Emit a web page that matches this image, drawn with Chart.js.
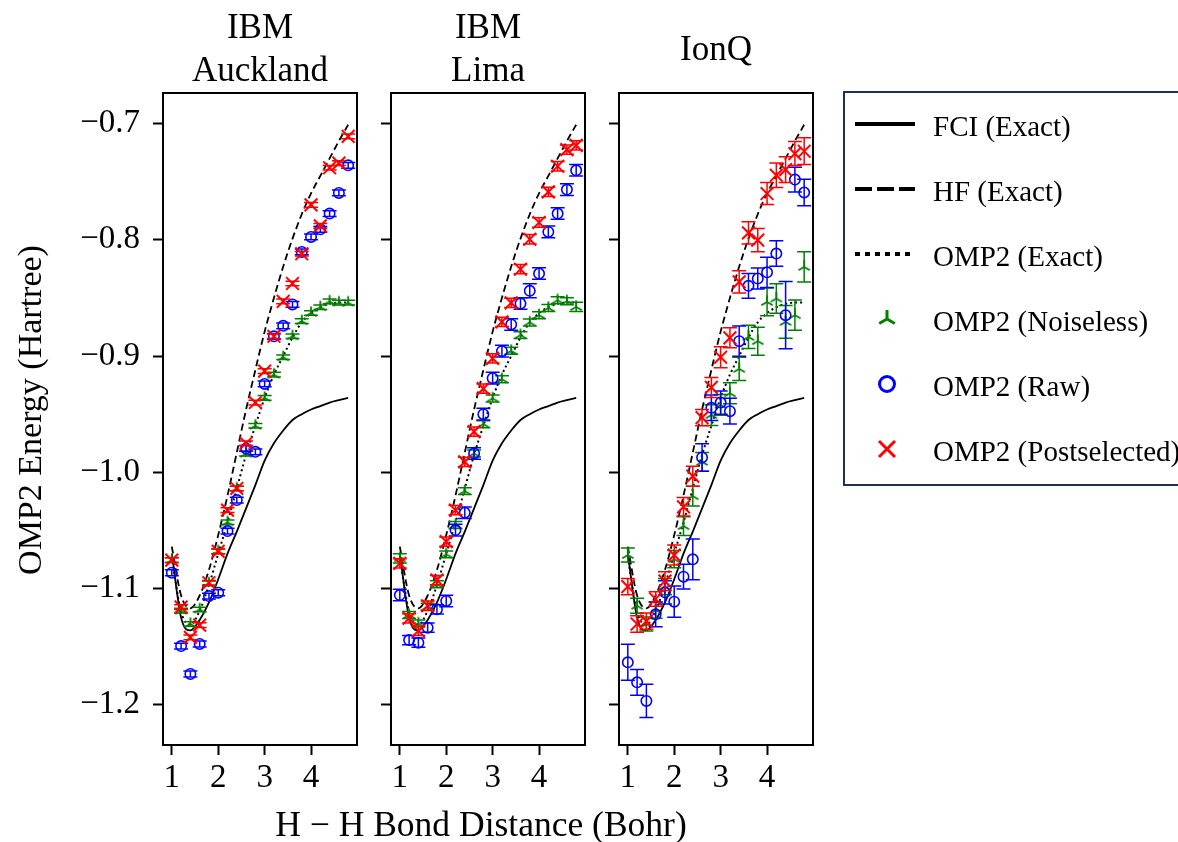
<!DOCTYPE html>
<html>
<head>
<meta charset="utf-8">
<script src="https://cdn.jsdelivr.net/npm/chart.js@4.4.1/dist/chart.umd.min.js"></script>
<style>
  body { margin: 0; width: 1178px; height: 842px; overflow: hidden; position: relative; background: #fff; font-family: "Liberation Serif", "Times New Roman", serif; color: #000; }
  canvas.panel { position: absolute; left: 0; top: 0; }
  .title { position: absolute; width: 300px; text-align: center; font-size: 35px; line-height: 43px; }
  .xlabel { position: absolute; left: 181px; top: 807px; width: 600px; text-align: center; font-size: 35.5px; line-height: 34px; white-space: nowrap; }
  .ylabel { position: absolute; left: -170px; top: 390px; width: 400px; height: 40px; text-align: center; font-size: 34px; line-height: 40px; transform: rotate(-90deg); white-space: nowrap; }
  #legend { position: absolute; left: 843px; top: 91px; width: 360px; height: 391px; border: 2px solid #1f3050; }
  .lg-text { position: absolute; left: 933px; font-size: 29px; line-height: 34px; white-space: nowrap; }
  .lg-icon { position: absolute; left: 852px; }
</style>
</head>
<body>
<canvas class="panel" id="p1" width="1178" height="842"></canvas>
<canvas class="panel" id="p2" width="1178" height="842"></canvas>
<canvas class="panel" id="p3" width="1178" height="842"></canvas>

<div class="title" style="left:110px; top:5px;">IBM<br>Auckland</div>
<div class="title" style="left:338px; top:5px;">IBM<br>Lima</div>
<div class="title" style="left:566px; top:27px;">IonQ</div>
<div class="xlabel">H &minus; H Bond Distance (Bohr)</div>
<div class="ylabel">OMP2 Energy (Hartree)</div>
<div id="legend"></div>

<script>
const bondDist = [1.0, 1.2, 1.4, 1.6, 1.8, 2.0, 2.2, 2.4, 2.6, 2.8, 3.0, 3.2, 3.4, 3.6, 3.8, 4.0, 4.2, 4.4, 4.6, 4.8];
const xTicks = [1, 2, 3, 4];
const yTicks = [-1.2, -1.1, -1.0, -0.9, -0.8, -0.7];
const yTickLabels = ['\u22121.2', '\u22121.1', '\u22121.0', '\u22120.9', '\u22120.8', '\u22120.7'];

// exact curves
const fciExact = [-1.070, -1.125, -1.136, -1.127, -1.112, -1.092, -1.070, -1.051, -1.031, -1.011, -0.990, -0.975, -0.964, -0.955, -0.950, -0.946, -0.943, -0.940, -0.938, -0.936];
const hfExact = [-1.064, -1.106, -1.117, -1.106, -1.084, -1.054, -1.020, -0.983, -0.946, -0.912, -0.879, -0.850, -0.823, -0.799, -0.778, -0.760, -0.745, -0.730, -0.715, -0.701];
const omp2Exact = [-1.073, -1.120, -1.131, -1.119, -1.097, -1.070, -1.043, -1.014, -0.985, -0.960, -0.936, -0.916, -0.900, -0.884, -0.871, -0.863, -0.858, -0.855, -0.854, -0.854];

// IBM Auckland
const aucklandNoiseless = [-1.0755, -1.119, -1.1305, -1.118, -1.0956, -1.068, -1.043, -1.0139, -0.984, -0.960, -0.936, -0.916, -0.901, -0.883, -0.870, -0.863, -0.858, -0.853, -0.854, -0.854];
const aucklandNoiselessErr = [0.002, 0.002, 0.002, 0.002, 0.002, 0.002, 0.002, 0.002, 0.002, 0.002, 0.002, 0.002, 0.002, 0.002, 0.002, 0.002, 0.002, 0.002, 0.002, 0.002];
const aucklandRaw = [-1.0864, -1.1495, -1.1735, -1.1477, -1.1065, -1.1036, -1.0506, -1.0239, -0.9795, -0.9824, -0.924, -0.883, -0.874, -0.8556, -0.8104, -0.7975, -0.791, -0.7774, -0.7597, -0.7359];
const aucklandRawErr = [0.0025, 0.0025, 0.0025, 0.0025, 0.0025, 0.0025, 0.0025, 0.0025, 0.0025, 0.0025, 0.0025, 0.0025, 0.0025, 0.0025, 0.0025, 0.0025, 0.0025, 0.0025, 0.0025, 0.0025];
const aucklandPost = [-1.0755, -1.116, -1.142, -1.1315, -1.095, -1.068, -1.0325, -1.0139, -0.975, -0.940, -0.913, -0.883, -0.853, -0.8376, -0.812, -0.770, -0.788, -0.738, -0.734, -0.711];
const aucklandPostErr = [0.002, 0.002, 0.002, 0.002, 0.002, 0.002, 0.002, 0.002, 0.002, 0.002, 0.002, 0.002, 0.002, 0.002, 0.002, 0.002, 0.002, 0.002, 0.002, 0.002];

// IBM Lima
const limaNoiseless = [-1.074, -1.1228, -1.130, -1.1156, -1.0964, -1.0706, -1.0454, -1.0162, -0.9838, -0.9586, -0.9365, -0.920, -0.8955, -0.882, -0.8711, -0.8648, -0.8586, -0.852, -0.8528, -0.8577];
const limaNoiselessErr = [0.004, 0.003, 0.003, 0.003, 0.003, 0.003, 0.003, 0.003, 0.003, 0.003, 0.003, 0.003, 0.003, 0.003, 0.003, 0.003, 0.003, 0.003, 0.003, 0.004];
const limaRaw = [-1.1056, -1.1443, -1.1466, -1.1337, -1.1179, -1.1107, -1.0497, -1.0348, -0.9838, -0.950, -0.919, -0.8958, -0.8728, -0.8548, -0.8439, -0.829, -0.7932, -0.7774, -0.7568, -0.7402];
const limaRawErr = [0.005, 0.004, 0.004, 0.004, 0.004, 0.005, 0.005, 0.005, 0.005, 0.005, 0.005, 0.005, 0.005, 0.005, 0.006, 0.005, 0.005, 0.005, 0.005, 0.005];
const limaPost = [-1.0783, -1.1256, -1.1363, -1.1148, -1.0927, -1.0597, -1.0325, -0.991, -0.965, -0.928, -0.902, -0.8706, -0.8543, -0.8253, -0.7995, -0.7851, -0.7588, -0.7367, -0.7224, -0.7187];
const limaPostErr = [0.004, 0.004, 0.004, 0.004, 0.004, 0.004, 0.004, 0.004, 0.004, 0.004, 0.004, 0.004, 0.004, 0.004, 0.004, 0.004, 0.004, 0.004, 0.004, 0.004];

// IonQ
const ionqNoiseless = [-1.0712, -1.1148, -1.1305, -1.1185, -1.0984, -1.0747, -1.0463, -1.0205, -0.991, -0.9508, -0.942, -0.932, -0.911, -0.8835, -0.8872, -0.8534, -0.8505, -0.8706, -0.8648, -0.8233];
const ionqNoiselessErr = [0.006, 0.0065, 0.006, 0.007, 0.007, 0.0075, 0.008, 0.0086, 0.008, 0.009, 0.009, 0.009, 0.010, 0.010, 0.012, 0.012, 0.0126, 0.014, 0.013, 0.013];
const ionqRaw = [-1.1635, -1.1807, -1.1967, -1.1222, -1.1033, -1.1113, -1.0898, -1.0749, -0.9872, -0.9445, -0.940, -0.9474, -0.8872, -0.8396, -0.8333, -0.828, -0.8118, -0.8648, -0.7482, -0.7593];
const ionqRawErr = [0.0155, 0.011, 0.0143, 0.0106, 0.010, 0.0135, 0.0106, 0.0175, 0.0118, 0.011, 0.010, 0.011, 0.013, 0.0106, 0.009, 0.013, 0.011, 0.029, 0.0106, 0.0115];
const ionqPost = [-1.0984, -1.1305, -1.128, -1.109, -1.0936, -1.0712, -1.0297, -1.0033, -0.953, -0.927, -0.901, -0.8843, -0.8362, -0.794, -0.8003, -0.7602, -0.7445, -0.7396, -0.7258, -0.7238];
const ionqPostErr = [0.007, 0.007, 0.007, 0.0063, 0.008, 0.0086, 0.008, 0.0086, 0.007, 0.0086, 0.009, 0.0086, 0.0095, 0.0095, 0.010, 0.0095, 0.0106, 0.011, 0.0103, 0.0115];

const GREEN = '#008000', BLUE = '#0000ff', RED = '#ff0000';
const FONT = '"Liberation Serif", "Times New Roman", serif';

function makeTriUp(size, r, color, lw) {
    const c = document.createElement('canvas');
    c.width = size;
    c.height = size;
    const g = c.getContext('2d');
    const m = size / 2;
    g.strokeStyle = color;
    g.lineWidth = lw;
    g.beginPath();
    g.moveTo(m, m); g.lineTo(m, m - r);
    g.moveTo(m, m); g.lineTo(m - r * 0.866, m + r * 0.5);
    g.moveTo(m, m); g.lineTo(m + r * 0.866, m + r * 0.5);
    g.stroke();
    return c;
}

const triMarker = makeTriUp(18, 6.5, GREEN, 1.8);

function points(ys) {
    return bondDist.map((x, i) => ({ x: x, y: ys[i] }));
}

// draws error bars under each dataset's own markers
const errorBars = {
    id: 'errorBars',
    beforeDatasetDraw(chart, args) {
        const ds = chart.data.datasets[args.index];
        if (!ds.errors) return;
        const xs = chart.scales.x, ys = chart.scales.y, ctx = chart.ctx;
        const cap = 7;
        ctx.save();
        ctx.strokeStyle = ds.borderColor;
        ctx.lineWidth = 1.5;
        ds.data.forEach((p, i) => {
            const e = ds.errors[i];
            const px = xs.getPixelForValue(p.x);
            const top = ys.getPixelForValue(p.y + e);
            const bot = ys.getPixelForValue(p.y - e);
            ctx.beginPath();
            ctx.moveTo(px, top); ctx.lineTo(px, bot);
            ctx.moveTo(px - cap, top); ctx.lineTo(px + cap, top);
            ctx.moveTo(px - cap, bot); ctx.lineTo(px + cap, bot);
            ctx.stroke();
        });
        ctx.restore();
    }
};

const frame = {
    id: 'frame',
    afterDraw(chart) {
        const a = chart.chartArea, ctx = chart.ctx;
        ctx.save();
        ctx.strokeStyle = '#000';
        ctx.lineWidth = 2;
        ctx.strokeRect(a.left, a.top, a.right - a.left, a.bottom - a.top);
        ctx.restore();
    }
};

function curve(ys, dash) {
    return {
        data: points(ys),
        showLine: true,
        borderColor: '#000',
        borderWidth: dash && dash[0] === 2 ? 2 : 1.8,
        borderDash: dash || [],
        cubicInterpolationMode: 'monotone',
        pointRadius: 0
    };
}

function makePanel(id, left, right, showLabels, noiseless, noiselessErr, raw, rawErr, post, postErr) {
    const yWidth = 150, xHeight = 60;
    new Chart(document.getElementById(id), {
        type: 'scatter',
        data: {
            datasets: [
                { data: points(post), errors: postErr, borderColor: RED, backgroundColor: RED, pointStyle: 'crossRot', pointRadius: 9, pointBorderWidth: 2 },
                { data: points(raw), errors: rawErr, borderColor: BLUE, backgroundColor: 'rgba(0,0,0,0)', pointStyle: 'circle', pointRadius: 5.2, pointBorderWidth: 1.6 },
                { data: points(noiseless), errors: noiselessErr, borderColor: GREEN, backgroundColor: GREEN, pointStyle: triMarker },
                curve(omp2Exact, [2, 3]),
                curve(hfExact, [7, 4]),
                curve(fciExact, null)
            ]
        },
        options: {
            responsive: false,
            animation: false,
            devicePixelRatio: 1,
            layout: { padding: { left: left - yWidth, right: 1178 - right, top: 93, bottom: 842 - 745 - xHeight } },
            plugins: { legend: { display: false }, tooltip: { enabled: false } },
            scales: {
                x: {
                    type: 'linear',
                    min: 0.81,
                    max: 4.99,
                    afterBuildTicks: axis => { axis.ticks = xTicks.map(v => ({ value: v })); },
                    afterFit: axis => { axis.height = xHeight; },
                    border: { display: false },
                    grid: { drawOnChartArea: false, drawTicks: true, tickLength: 10, tickWidth: 2, tickColor: '#000', color: '#000' },
                    ticks: { color: '#000', padding: 4, maxRotation: 0, font: { family: FONT, size: 33 } }
                },
                y: {
                    type: 'linear',
                    min: -1.2346,
                    max: -0.6737,
                    afterBuildTicks: axis => { axis.ticks = yTicks.map(v => ({ value: v })); },
                    afterFit: axis => { axis.width = yWidth; },
                    border: { display: false },
                    grid: { drawOnChartArea: false, drawTicks: true, tickLength: 10, tickWidth: 2, tickColor: '#000', color: '#000' },
                    ticks: {
                        color: '#000',
                        padding: 13,
                        font: { family: FONT, size: 33 },
                        callback: (v, i) => showLabels ? yTickLabels[i] : ''
                    }
                }
            }
        },
        plugins: [errorBars, frame]
    });
}

makePanel('p1', 163, 357, true, aucklandNoiseless, aucklandNoiselessErr, aucklandRaw, aucklandRawErr, aucklandPost, aucklandPostErr);
makePanel('p2', 391, 585, false, limaNoiseless, limaNoiselessErr, limaRaw, limaRawErr, limaPost, limaPostErr);
makePanel('p3', 619, 813, false, ionqNoiseless, ionqNoiselessErr, ionqRaw, ionqRawErr, ionqPost, ionqPostErr);

// legend
const legendLabels = ['FCI (Exact)', 'HF (Exact)', 'OMP2 (Exact)', 'OMP2 (Noiseless)', 'OMP2 (Raw)', 'OMP2 (Postselected)'];
const legendKinds = ['solid', 'dashed', 'dotted', 'tri', 'circle', 'cross'];
const rowTop = 123.6, rowStep = 65;

legendLabels.forEach((label, i) => {
    const cy = rowTop + i * rowStep;
    const t = document.createElement('div');
    t.className = 'lg-text';
    t.style.top = (cy - 14.4) + 'px';
    t.textContent = label;
    document.body.appendChild(t);

    const c = document.createElement('canvas');
    c.className = 'lg-icon';
    c.width = 66;
    c.height = 24;
    c.style.top = (cy - 12) + 'px';
    document.body.appendChild(c);
    const g = c.getContext('2d');
    const kind = legendKinds[i];
    if (kind === 'solid' || kind === 'dashed' || kind === 'dotted') {
        g.strokeStyle = '#000';
        g.lineWidth = 4;
        if (kind === 'dashed') g.setLineDash([17, 5]);
        if (kind === 'dotted') g.setLineDash([5, 5]);
        g.beginPath();
        g.moveTo(3, 12);
        g.lineTo(63, 12);
        g.stroke();
    } else if (kind === 'tri') {
        g.drawImage(makeTriUp(24, 9, GREEN, 3), 23, 0);
    } else if (kind === 'circle') {
        g.strokeStyle = BLUE;
        g.lineWidth = 3;
        g.beginPath();
        g.arc(35, 12, 7.5, 0, Math.PI * 2);
        g.stroke();
    } else {
        g.strokeStyle = RED;
        g.lineWidth = 3;
        g.beginPath();
        g.moveTo(27, 4); g.lineTo(43, 20);
        g.moveTo(43, 4); g.lineTo(27, 20);
        g.stroke();
    }
});
</script>
</body>
</html>
